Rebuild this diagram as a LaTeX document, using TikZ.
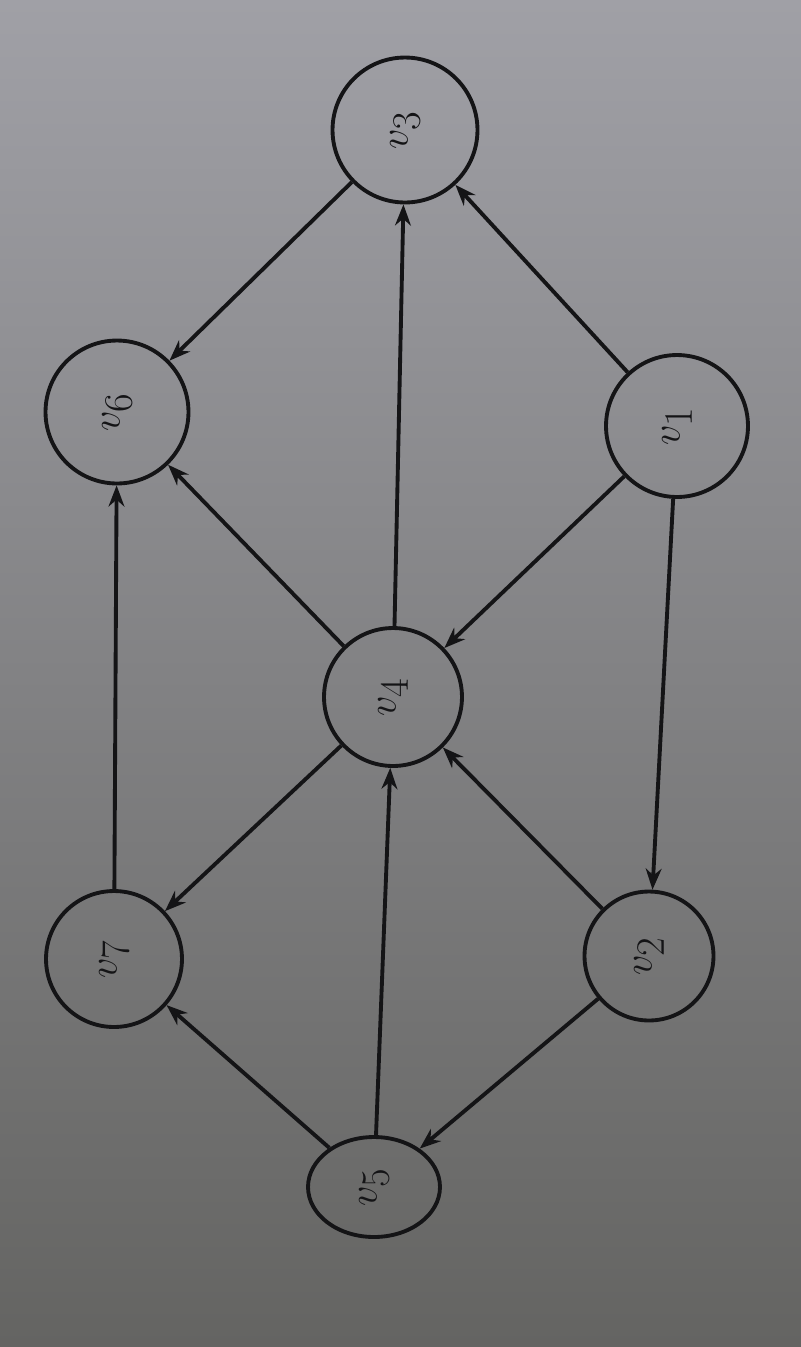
\documentclass[tikz,border=0pt]{standalone}
\usepackage{fix-cm}
\usepackage{amsmath}
\usepackage{amssymb}
\usepackage{tikz}
\usetikzlibrary{calc,shapes,arrows.meta,positioning,backgrounds}
\definecolor{papertop}{RGB}{160,160,166}
\definecolor{paperbot}{RGB}{100,100,98}
\definecolor{ink}{RGB}{20,20,22}

\begin{document}
\begin{tikzpicture}[x=0.02cm,y=-0.02cm,
	vertex/.style={circle,draw=ink,line width=2.2pt,inner sep=0pt,rotate=90,
		text=ink,font=\fontsize{23}{27}\selectfont},
	link/.style={draw=ink,line width=2.2pt,-{Stealth[length=12pt,width=9pt]}}]
	\def\lab#1{$v_{\textstyle #1}$}
	\fill[top color=papertop,bottom color=paperbot] (0,0) rectangle (801,1347);
	% vertices
	\node[vertex,minimum size=2.9cm] (v3) at (405,130) {\lab3};
	\node[vertex,minimum size=2.84cm] (v1) at (677,426) {\lab1};
	\node[vertex,minimum size=2.86cm] (v6) at (117,412) {\lab6};
	\node[vertex,minimum size=2.76cm] (v4) at (393,697) {\lab4};
	\node[vertex,minimum size=2.58cm] (v2) at (649,956) {\lab2};
	\node[vertex,minimum size=2.72cm] (v7) at (114,959) {\lab7};
	\node[vertex,ellipse,minimum width=2cm,minimum height=2.64cm] (v5) at (374,1187) {\lab5};
	% edges
	\draw[link] (v1) -- (v3);
	\draw[link] (v1) -- (v4);
	\draw[link] (v1) -- (v2);
	\draw[link] (v3) -- (v6);
	\draw[link] (v4) -- (v3);
	\draw[link] (v4) -- (v6);
	\draw[link] (v4) -- (v7);
	\draw[link] (v2) -- (v4);
	\draw[link] (v2) -- (v5);
	\draw[link] (v5) -- (v4);
	\draw[link] (v5) -- (v7);
	\draw[link] (v7) -- (v6);
\end{tikzpicture}
\end{document}
